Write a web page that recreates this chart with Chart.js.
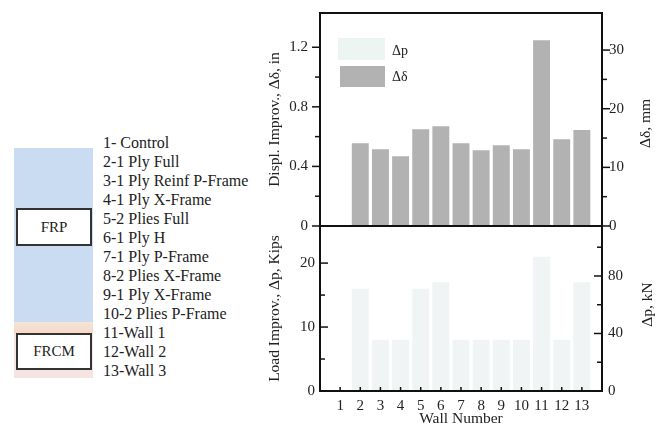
<!DOCTYPE html>
<html lang="en">
<head>
    <meta charset="UTF-8">
    <title>Wall improvements</title>
    <script src="https://cdn.jsdelivr.net/npm/chart.js"></script>
    <style>
        body { margin: 0; width: 662px; height: 428px; background: #fff; position: relative; overflow: hidden; font-family: "Liberation Serif", serif; }
        .abs { position: absolute; }
        #list { left: 103px; top: 133px; font-size: 16px; line-height: 19px; color: #222; white-space: nowrap; }
        .box { background: #fff; border: 2px solid #333; box-sizing: border-box; font-size: 15px; color: #222; display: flex; align-items: center; justify-content: center; }
    </style>
</head>
<body>

    <div class="abs" style="left:14px;top:148px;width:79px;height:174px;background:#c9dcf1;"></div>
    <div class="abs" style="left:14px;top:322px;width:79px;height:12px;background:linear-gradient(#f3e4d6,#f6d9c6);"></div>
    <div class="abs" style="left:14px;top:334px;width:79px;height:44px;background:#f4e4e2;"></div>
    <div class="abs box" style="left:16px;top:208px;width:76px;height:38px;">FRP</div>
    <div class="abs box" style="left:16px;top:333px;width:76px;height:37px;">FRCM</div>
    <div class="abs" id="list"></div>

    <canvas id="topChart" class="abs" width="412" height="240" style="left:250px;top:0;"></canvas>
    <canvas id="botChart" class="abs" width="412" height="212" style="left:250px;top:216px;"></canvas>

    <script>
        const walls = [1, 2, 3, 4, 5, 6, 7, 8, 9, 10, 11, 12, 13];
        const wallNames = ['1- Control', '2-1 Ply Full', '3-1 Ply Reinf P-Frame', '4-1 Ply X-Frame', '5-2 Plies Full',
            '6-1 Ply H', '7-1 Ply P-Frame', '8-2 Plies X-Frame', '9-1 Ply X-Frame', '10-2 Plies P-Frame',
            '11-Wall 1', '12-Wall 2', '13-Wall 3'];
        // displacement improvement, in
        const dDelta = [0, 0.556, 0.515, 0.468, 0.65, 0.67, 0.556, 0.508, 0.542, 0.515, 1.247, 0.583, 0.644];
        // load improvement, kips
        const dLoad = [0, 16, 8, 8, 16, 17, 8, 8, 8, 8, 21, 8, 17];
        const inTicks = [0, 0.4, 0.8, 1.2];
        const mmTicks = [0, 10, 20, 30];
        const kipTicks = [0, 10, 20];
        const kNTicks = [0, 40, 80];

        document.getElementById('list').innerHTML = wallNames.map(n => '<div>' + n + '</div>').join('');

        const serif = '"Liberation Serif", "DejaVu Serif", serif';
        const inMax = 1.43, kipMax = 25.8;

        function isLabel(v, list) {
            return list.some(t => Math.abs(t - v) < 1e-6);
        }

        // frame, tick marks and right-side titles
        const framePlugin = {
            id: 'frame',
            afterDraw(chart, args, opts) {
                const {ctx, chartArea: a} = chart;
                ctx.save();
                ctx.strokeStyle = '#111';
                ctx.lineWidth = 2;
                ctx.strokeRect(a.left, a.top, a.right - a.left, a.bottom - a.top);
                ctx.lineWidth = 1.5;
                ['y', 'y1'].forEach(id => {
                    const s = chart.scales[id];
                    const list = opts.labels[id];
                    const left = id === 'y';
                    s.ticks.forEach(t => {
                        const step = opts.steps[id];
                        if (Math.abs(t.value / step - Math.round(t.value / step)) > 1e-6) return;
                        const py = s.getPixelForValue(t.value);
                        const len = isLabel(t.value, list) ? 8 : 5;
                        const x0 = left ? a.left : a.right;
                        let dir = left ? -1 : 1;
                        if (opts.inward) dir = -dir;
                        ctx.beginPath();
                        ctx.moveTo(x0, py);
                        ctx.lineTo(x0 + dir * len, py);
                        ctx.stroke();
                    });
                });
                if (chart.scales.x.options.display) {
                    const s = chart.scales.x;
                    walls.forEach(w => {
                        const px = s.getPixelForValue(w);
                        ctx.beginPath();
                        ctx.moveTo(px, a.bottom);
                        ctx.lineTo(px, a.bottom - 4);
                        ctx.stroke();
                    });
                }
                // right title, read bottom to top
                ctx.fillStyle = '#222';
                ctx.font = '15.5px ' + serif;
                ctx.textAlign = 'center';
                ctx.textBaseline = 'middle';
                ctx.translate(opts.rightTitleX, (a.top + a.bottom) / 2 + opts.rightTitleDy);
                ctx.rotate(-Math.PI / 2);
                ctx.fillText(opts.rightTitle, 0, 0);
                ctx.restore();
            }
        };

        const legendPlugin = {
            id: 'innerLegend',
            afterDraw(chart) {
                const {ctx} = chart;
                ctx.save();
                ctx.fillStyle = '#edf5f2';
                ctx.fillRect(88, 38, 47, 22);
                ctx.fillStyle = chart.data.datasets[0].backgroundColor;
                ctx.fillRect(90, 66, 45, 21);
                ctx.fillStyle = '#222';
                ctx.font = '14px ' + serif;
                ctx.textBaseline = 'middle';
                ctx.fillText('\u0394p', 142, 51);
                ctx.fillText('\u0394\u03b4', 142, 77);
                ctx.restore();
            }
        };

        const tickFont = {family: serif, size: 15};
        const titleFont = {family: serif, size: 15.5};

        function noPad(s) {
            s.paddingTop = 0; s.paddingBottom = 0; s.paddingLeft = 0; s.paddingRight = 0;
        }

        function xScale(show) {
            return {
                type: 'linear', min: 0, max: 14, display: show, offset: false,
                afterFit: s => { s.height = show ? 37 : 0; noPad(s); },
                grid: {display: false, drawTicks: false},
                border: {display: false},
                ticks: {stepSize: 1, color: '#222', font: tickFont, padding: 6, autoSkip: false, maxRotation: 0,
                    callback: v => (v >= 1 && v <= 13) ? String(v) : ''},
                title: {display: show, text: 'Wall Number', color: '#222', font: titleFont, padding: {top: 0, bottom: 0}}
            };
        }

        function yScale(pos, max, step, list, pad, fmt, title) {
            return {
                position: pos, min: 0, max: max,
                afterFit: s => { s.width = pos === 'left' ? 70 : 60; noPad(s); },
                grid: {display: false, drawTicks: false},
                border: {display: false},
                ticks: {stepSize: step, color: '#222', font: tickFont, padding: pad, autoSkip: false,
                    callback: v => isLabel(v, list) ? fmt(v) : ''},
                title: {display: !!title, text: title || '', color: '#222', font: titleFont, padding: {top: 16, bottom: 0}}
            };
        }

        new Chart(document.getElementById('topChart'), {
            type: 'bar',
            data: {
                datasets: [{
                    label: '\u0394\u03b4',
                    data: walls.map((w, i) => ({x: w, y: dDelta[i]})),
                    backgroundColor: '#b2b2b2',
                    barPercentage: 0.84,
                    categoryPercentage: 1
                }]
            },
            options: {
                responsive: false, animation: false,
                devicePixelRatio: 1,
                layout: {padding: {top: 13, bottom: 14, left: 0, right: 0}},
                plugins: {
                    legend: {display: false}, tooltip: {enabled: false},
                    frame: {labels: {y: inTicks, y1: mmTicks}, steps: {y: 0.2, y1: 5}, inward: false,
                        rightTitle: '\u0394\u03b4, mm', rightTitleX: 396, rightTitleDy: 4}
                },
                scales: {
                    x: xScale(false),
                    y: yScale('left', inMax, 0.2, inTicks, 12, v => v === 0 ? '0' : v.toFixed(1), 'Displ. Improv., \u0394\u03b4, in'),
                    y1: yScale('right', inMax * 25.4, 5, mmTicks, 7, v => String(v), null)
                }
            },
            plugins: [framePlugin, legendPlugin]
        });

        new Chart(document.getElementById('botChart'), {
            type: 'bar',
            data: {
                datasets: [{
                    label: '\u0394p',
                    data: walls.map((w, i) => ({x: w, y: dLoad[i]})),
                    backgroundColor: '#f1f4f4',
                    barPercentage: 0.84,
                    categoryPercentage: 1
                }]
            },
            options: {
                responsive: false, animation: false,
                devicePixelRatio: 1,
                layout: {padding: {top: 10, bottom: 0, left: 0, right: 0}},
                plugins: {
                    legend: {display: false}, tooltip: {enabled: false},
                    frame: {labels: {y: kipTicks, y1: kNTicks}, steps: {y: 5, y1: 20}, inward: true,
                        rightTitle: '\u0394p, kN', rightTitleX: 398, rightTitleDy: -4}
                },
                scales: {
                    x: xScale(true),
                    y: yScale('left', kipMax, 5, kipTicks, 5, v => String(v), 'Load Improv., \u0394p, Kips'),
                    y1: yScale('right', kipMax * 4.448, 20, kNTicks, 6, v => String(v), null)
                }
            },
            plugins: [framePlugin]
        });
    </script>

</body>
</html>
